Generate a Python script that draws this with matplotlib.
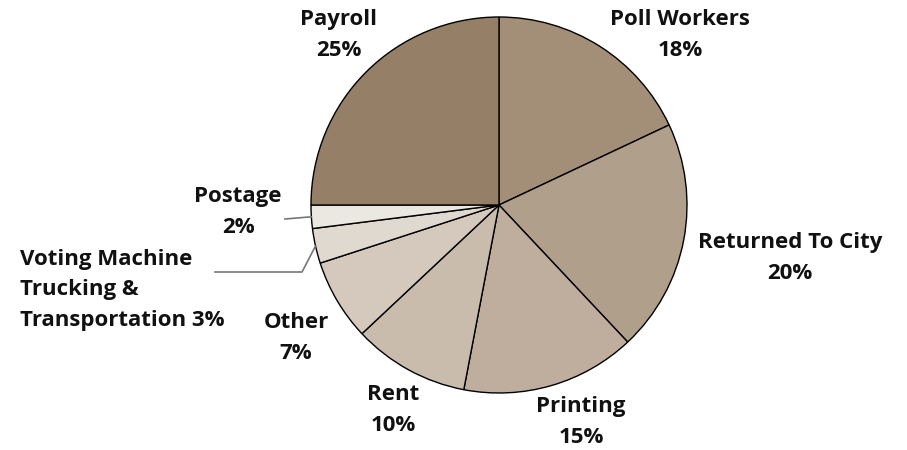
import numpy as np
import matplotlib
matplotlib.use("Agg")
import matplotlib.pyplot as plt

# Slices, clockwise from the top
labels = ["Poll Workers", "Returned To City", "Printing", "Rent", "Other",
  "Voting Machine\nTrucking &\nTransportation", "Postage", "Payroll"]
shares = [18, 20, 15, 10, 7, 3, 2, 25]
colors = ["#a38f77", "#b09f8b", "#bfae9e", "#c9bcad", "#d4c9bc",
  "#e0d9cf", "#ebe7e1", "#957f66"]

# Figure laid out in pixel units (y measured from the bottom)
W, H = 907, 450
fig = plt.figure(figsize=(W / 100, H / 100), dpi=100)
ax = fig.add_axes([0, 0, 1, 1])

cx, cy, r = 499, H - 205, 188
wedges, _ = ax.pie(shares, colors=colors, startangle=90, counterclock=False,
  center=(cx, cy), radius=r, frame=True,
  wedgeprops=dict(edgecolor="black", linewidth=1.0))
ax.set_xlim(0, W)
ax.set_ylim(0, H)
ax.set_aspect("equal")
ax.axis("off")

font = dict(family=["Open Sans", "DejaVu Sans"], weight="bold", fontsize=16,
  color="#111111", linespacing=1.58)

# Label centres, in pixels from the top-left corner
label_pos = {
  "Payroll": (339, 35),
  "Poll Workers": (680, 35),
  "Returned To City": (790, 258),
  "Printing": (581, 422),
  "Rent": (393, 410),
  "Other": (296, 338),
  "Postage": (238, 212),
}
for label, share in zip(labels, shares):
  if label in label_pos:
    x, y = label_pos[label]
    ax.text(x, H - y, f"{label}\n{share}%", ha="center", va="center", **font)

# Left-aligned label for the small voting machine slice
ax.text(20, H - 290, f"{labels[5]} {shares[5]}%", ha="left", va="center", **font)

# Leader lines from the small slices to their labels
def edge_point(wedge):
  mid = np.deg2rad((wedge.theta1 + wedge.theta2) / 2)
  return cx + r * np.cos(mid), cy + r * np.sin(mid)

px, py = edge_point(wedges[6])
ax.plot([285, px], [H - 219, py], color="#777777", lw=1.2)
vx, vy = edge_point(wedges[5])
ax.plot([215, 302, vx], [H - 272, H - 272, vy], color="#777777", lw=1.2)

fig.savefig("out.png", dpi=100)
